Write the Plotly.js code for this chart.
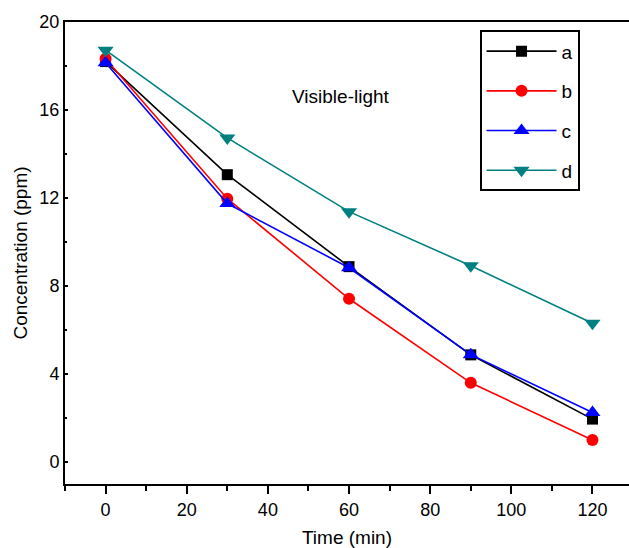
<!DOCTYPE html>
<html>
<head>
<meta charset="utf-8">
<script src="https://cdn.plot.ly/plotly-3.0.1.min.js"></script>
<style>html,body{margin:0;padding:0;background:#fff;}#chart{width:629px;height:548px;}</style>
</head>
<body>
<div id="chart"></div>
<script>
const time = [0, 30, 60, 90, 120];
const seriesA = [18.2, 13.06, 8.88, 4.87, 1.95];
const seriesB = [18.33, 11.97, 7.42, 3.6, 1.0];
const seriesC = [18.15, 11.75, 8.83, 4.88, 2.25];
const seriesD = [18.72, 14.73, 11.38, 8.92, 6.31];
const names = ['a', 'b', 'c', 'd'];
const colors = ['#000000', '#ff0000', '#0000ff', '#008080'];
const symbols = ['square', 'circle', 'triangle-up', 'triangle-down'];
const sizes = [11, 12, 14, 14];
const allSeries = [seriesA, seriesB, seriesC, seriesD];
const xTicks = [0, 20, 40, 60, 80, 100, 120];
const yTicks = [0, 4, 8, 12, 16, 20];

const FONT = 'Liberation Sans, Arial, sans-serif';
const FS = 18;
const FT = 19;

const traces = allSeries.map((vals, i) => ({
  x: time, y: vals, name: names[i], type: 'scatter', mode: 'lines+markers',
  legendgroup: names[i],
  line: {color: colors[i], width: 1.6},
  marker: {symbol: symbols[i], size: sizes[i], color: colors[i], line: {width: 0}}
}));

const layout = {
  width: 629, height: 548,
  margin: {l: 65, r: 0, t: 22, b: 64},
  paper_bgcolor: '#fff', plot_bgcolor: '#fff',
  font: {family: FONT, size: FS, color: '#000'},
  showlegend: true,
  legend: {
    x: 0.735, y: 0.982, xanchor: 'left', yanchor: 'top',
    bordercolor: '#000', borderwidth: 2, bgcolor: '#fff',
    font: {family: FONT, size: FT, color: '#000'},
    traceorder: 'grouped', tracegroupgap: 12, itemwidth: 70
  },
  xaxis: {
    range: [-10, 129], tickmode: 'array', tickvals: xTicks,
    ticks: 'outside', ticklen: 8, tickwidth: 2, tickcolor: '#000',
    minor: {dtick: 10, tick0: 0, ticks: 'outside', ticklen: 5, tickwidth: 2, tickcolor: '#000'},
    showline: true, linewidth: 2, linecolor: '#000', mirror: true,
    showgrid: false, zeroline: false,
    tickfont: {family: FONT, size: FS, color: '#000'},
    title: {text: 'Time (min)', font: {family: FONT, size: FT, color: '#000'}, standoff: 13}
  },
  yaxis: {
    range: [-1, 20], tickmode: 'array', tickvals: yTicks,
    ticks: 'inside', ticklen: 3, tickwidth: 2, tickcolor: '#000',
    minor: {dtick: 2, tick0: 0, ticks: 'inside', ticklen: 2, tickwidth: 1.5, tickcolor: '#000'},
    showline: true, linewidth: 2, linecolor: '#000', mirror: false,
    showgrid: false, zeroline: false,
    tickfont: {family: FONT, size: FS, color: '#000'},
    title: {text: 'Concentration (ppm)', font: {family: FONT, size: FT, color: '#000'}, standoff: 7}
  },
  annotations: [{
    x: 58, y: 16.6, xref: 'x', yref: 'y', text: 'Visible-light', showarrow: false,
    font: {family: FONT, size: FT, color: '#000'}
  }]
};

Plotly.newPlot('chart', traces, layout, {displayModeBar: false, staticPlot: true});
</script>
</body>
</html>
